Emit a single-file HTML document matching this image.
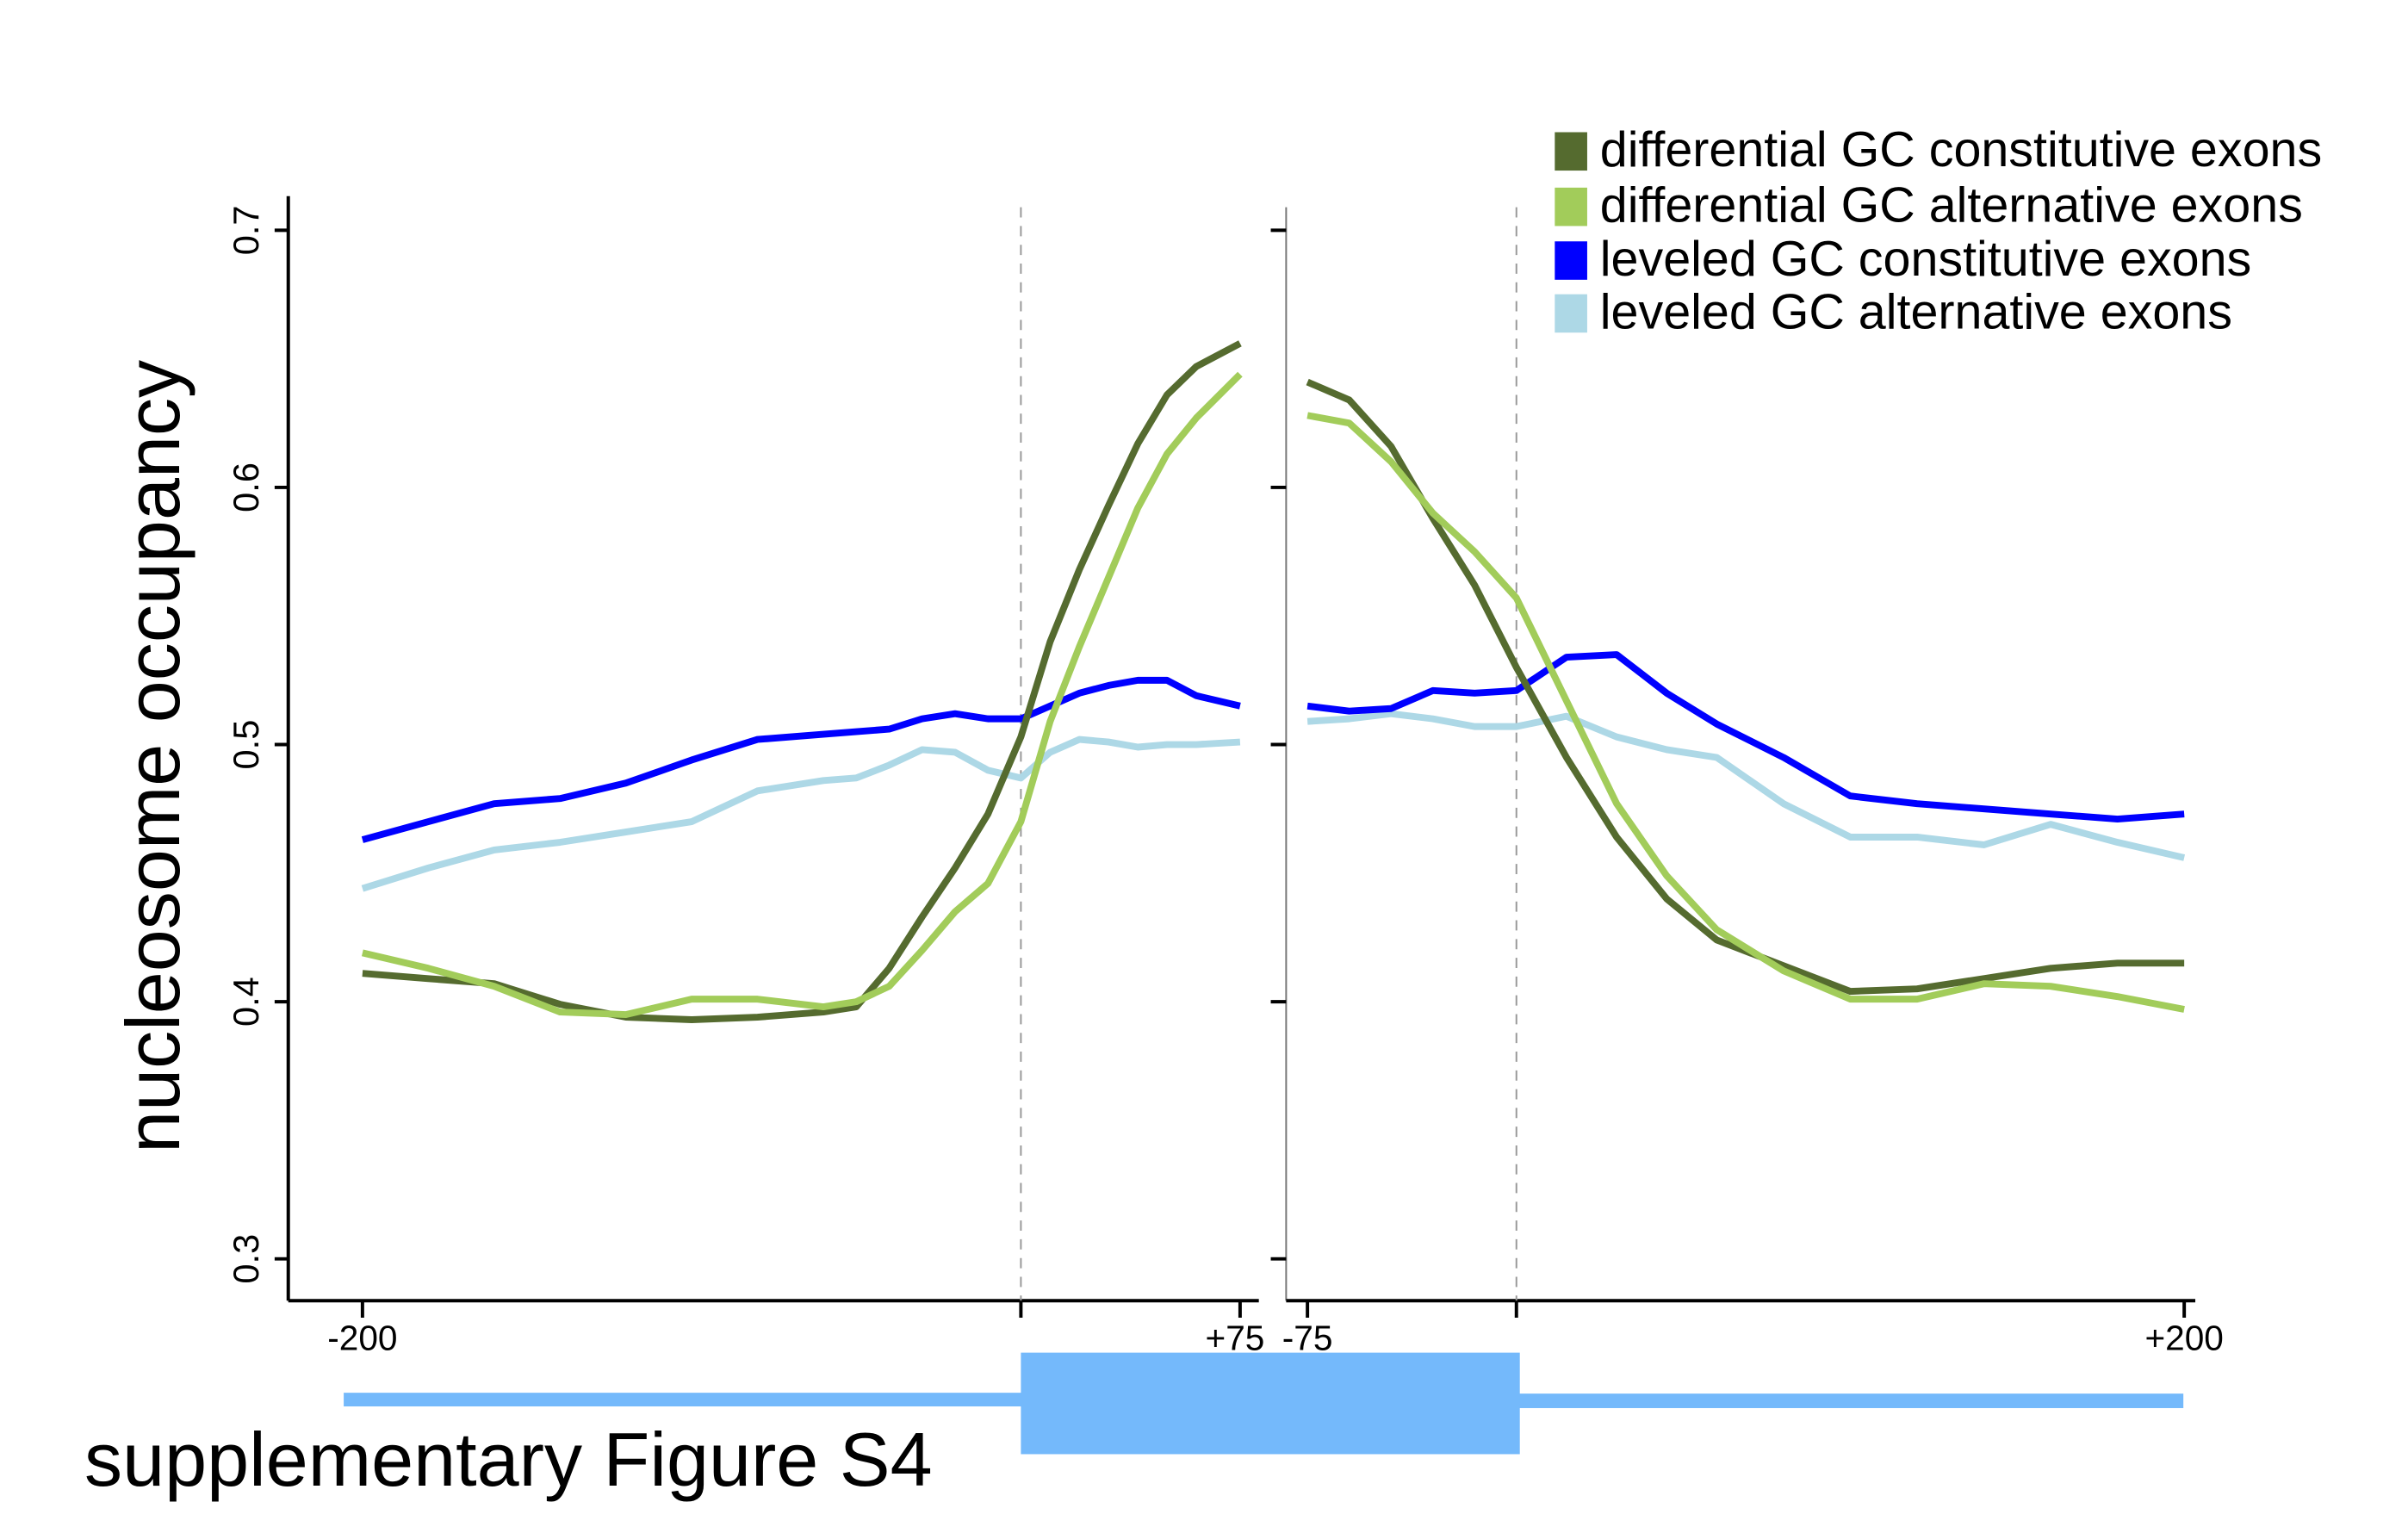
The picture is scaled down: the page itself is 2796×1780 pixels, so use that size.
<!DOCTYPE html>
<html><head><meta charset="utf-8">
<style>
html,body{margin:0;padding:0;background:#fff;}
svg{display:block;font-family:"Liberation Sans",Arial,sans-serif;}
</style></head>
<body>
<svg id="chart" width="2796" height="1780" viewBox="0 0 2796 1780" xmlns="http://www.w3.org/2000/svg">
<rect width="2796" height="1780" fill="#fff"/>
<g transform="scale(0.9903)">
<g id="axes"></g>
<g id="series"></g>
<g id="legend"></g>
<text x="0" y="0" font-size="89" transform="translate(210,887) rotate(-90)" text-anchor="middle">nucleosome occupancy</text>
<text x="99" y="1742" font-size="89">supplementary Figure S4</text>
<g fill="#74b9fb">
<rect x="403" y="1633" width="796" height="16"/>
<rect x="1197" y="1586" width="585" height="119"/>
<rect x="1780" y="1634" width="780" height="17"/>
</g>
</g>
</svg>
<script>
const NS = "http://www.w3.org/2000/svg";
// ---- data ----
const leftX = [-200,-180,-160,-140,-120,-100,-80,-60,-50,-40,-30,-20,-10,0,10,20,30,40,50,60,75];
const leftDiffConst = [.411,.409,.407,.399,.394,.393,.394,.396,.398,.413,.433,.452,.473,.503,.540,.568,.593,.617,.636,.647,.656];
const leftDiffAlt   = [.419,.413,.406,.396,.395,.401,.401,.398,.400,.406,.420,.435,.446,.470,.509,.538,.565,.592,.613,.627,.644];
const leftLevConst  = [.463,.470,.477,.479,.485,.494,.502,.504,.505,.506,.510,.512,.510,.510,.515,.520,.523,.525,.525,.519,.515];
const leftLevAlt    = [.444,.452,.459,.462,.466,.470,.482,.486,.487,.492,.498,.497,.490,.487,.497,.502,.501,.499,.500,.500,.501];
const rightX = [-75,-60,-45,-30,-15,0,15,30,45,60,80,100,120,140,160,180,200];
const rightDiffConst = [.641,.634,.616,.588,.562,.530,.495,.464,.440,.424,.414,.404,.405,.409,.413,.415,.415];
const rightDiffAlt   = [.628,.625,.610,.590,.575,.557,.517,.477,.449,.428,.412,.401,.401,.407,.406,.402,.397];
const rightLevConst  = [.515,.513,.514,.521,.520,.521,.534,.535,.520,.508,.495,.480,.477,.475,.473,.471,.473];
const rightLevAlt    = [.509,.510,.512,.510,.507,.507,.511,.503,.498,.495,.477,.464,.464,.461,.469,.462,.456];
const yTicks = [0.3,0.4,0.5,0.6,0.7];
const yTickLabels = ["0.3","0.4","0.5","0.6","0.7"];
const leftXTicks = [-200,0,75];
const leftXLabels = ["-200","","+75"];
const rightXTicks = [-75,0,200];
const rightXLabels = ["-75","","+200"];
const seriesNames = ["differential GC constitutive exons","differential GC alternative exons","leveled GC constitutive exons","leveled GC alternative exons"];
const seriesColors = ["#556b2f","#a2cc5a","#0000ff","#add8e6"];

// ---- scales ----
function yS(v){ return 270 + (0.7 - v) * 3015; }
function pw(d, r){ return function(x){
  for (let i=0;i<d.length-1;i++){ if (x<=d[i+1] || i===d.length-2){ return r[i]+(x-d[i])/(d[i+1]-d[i])*(r[i+1]-r[i]); } }
}; }
const xL = pw([-200,0,75],[425,1197,1454]);
const xR = pw([-75,0,200],[1533,1778,2561]);

function mk(tag, attrs, parent){ const e=document.createElementNS(NS,tag); for (const k in attrs) e.setAttribute(k, attrs[k]); parent.appendChild(e); return e; }
const axes = document.getElementById('axes');
const ser = document.getElementById('series');
const leg = document.getElementById('legend');

let e;
e = mk('line',{x1:338,y1:230,x2:338,y2:1525,stroke:'#000','stroke-width':4},axes);
 
e = mk('line',{x1:338,y1:1525,x2:1476,y2:1525,stroke:'#000','stroke-width':4},axes);
 
e = mk('line',{x1:1508,y1:243,x2:1508,y2:1525,stroke:'#777','stroke-width':2},axes);
 
e = mk('line',{x1:1508,y1:1525,x2:2574,y2:1525,stroke:'#000','stroke-width':4},axes);
 
e = mk('line',{x1:1197,y1:243,x2:1197,y2:1525,stroke:'#999','stroke-width':2,'stroke-dasharray':'12,10'},axes);
 
e = mk('line',{x1:1778,y1:243,x2:1778,y2:1525,stroke:'#999','stroke-width':2,'stroke-dasharray':'12,10'},axes);
 

yTicks.forEach((t,i)=>{
  const y=yS(t);
  let a = mk('line',{x1:322,y1:y,x2:338,y2:y,stroke:'#000','stroke-width':4},axes);
   
  let b = mk('line',{x1:1490,y1:y,x2:1508,y2:y,stroke:'#000','stroke-width':4},axes);
   
  let tx = mk('text',{x:0,y:0,'font-size':42,'text-anchor':'middle',transform:`translate(303,${y}) rotate(-90)`},axes);
  tx.textContent = yTickLabels[i];
   
});
leftXTicks.forEach((t,i)=>{
  const x=xL(t);
  let a = mk('line',{x1:x,y1:1525,x2:x,y2:1545,stroke:'#000','stroke-width':4},axes);
   
  if (leftXLabels[i]){ let tx=mk('text',{x:(t===75?x-6:x),y:1583,'font-size':41,'text-anchor':'middle'},axes); tx.textContent=leftXLabels[i];
      }
});
rightXTicks.forEach((t,i)=>{
  const x=xR(t);
  let a = mk('line',{x1:x,y1:1525,x2:x,y2:1545,stroke:'#000','stroke-width':4},axes);
   
  if (rightXLabels[i]){ let tx=mk('text',{x:x,y:1583,'font-size':41,'text-anchor':'middle'},axes); tx.textContent=rightXLabels[i];
      }
});

function drawLine(xs, ys, xf, color, name){
  const pts = xs.map((x,i)=>xf(x).toFixed(1)+','+yS(ys[i]).toFixed(1)).join(' ');
  const p = mk('polyline',{points:pts,fill:'none',stroke:color,'stroke-width':8,'stroke-linejoin':'round'},ser);
  
  
}
const leftSets=[leftDiffConst,leftDiffAlt,leftLevConst,leftLevAlt];
const rightSets=[rightDiffConst,rightDiffAlt,rightLevConst,rightLevAlt];
const order=[3,2,0,1];
order.forEach(i=>{
  drawLine(leftX,leftSets[i],xL,seriesColors[i],'left-line-'+i);
  drawLine(rightX,rightSets[i],xR,seriesColors[i],'right-line-'+i);
});

const legY=[155,220,283,345];
seriesNames.forEach((n,i)=>{
  const r = mk('rect',{x:1823,y:legY[i],width:38,height:45,fill:seriesColors[i]},leg);
  
  
  const t = mk('text',{x:1876,y:legY[i]+40,'font-size':58},leg);
  t.textContent=n;
  
  
});
</script>
</body></html>
